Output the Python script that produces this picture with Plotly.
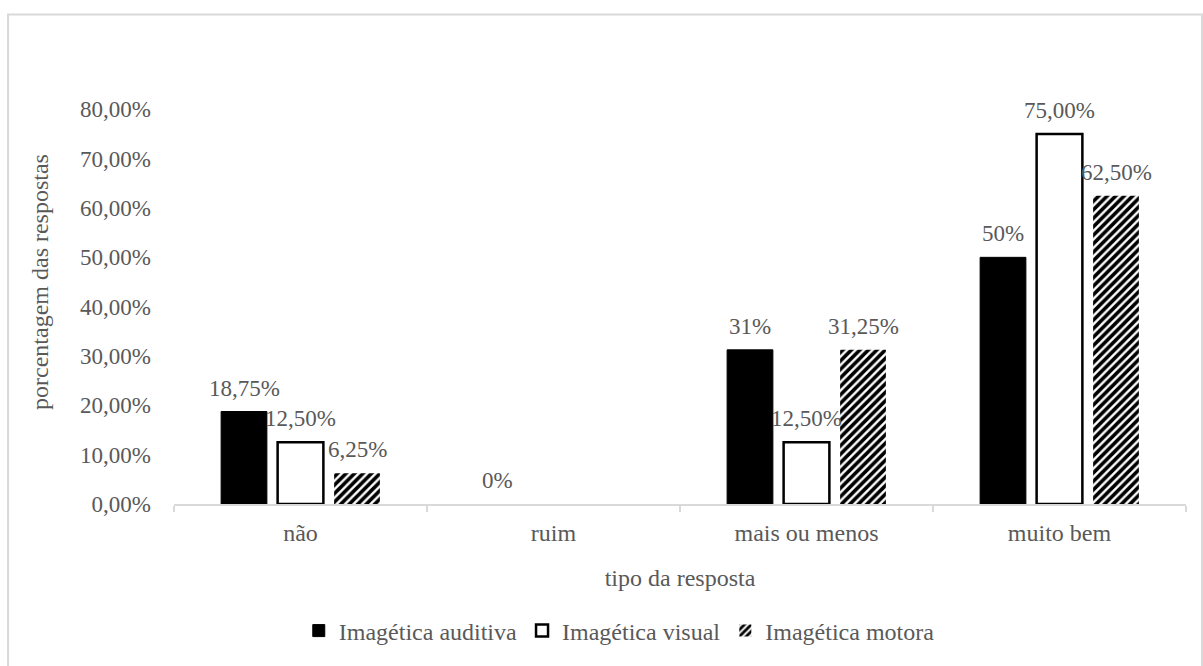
import plotly.graph_objects as go

categories = ["não", "ruim", "mais ou menos", "muito bem"]
series_names = ["Imagética auditiva", "Imagética visual", "Imagética motora"]
auditiva = [18.75, 0, 31.25, 50]
visual = [12.5, 0, 12.5, 75]
motora = [6.25, 0, 31.25, 62.5]
labels_auditiva = ["18,75%", "0%", "31%", "50%"]
labels_visual = ["12,50%", "", "12,50%", "75,00%"]
labels_motora = ["6,25%", "", "31,25%", "62,50%"]
y_ticks = [0, 10, 20, 30, 40, 50, 60, 70, 80]
y_tick_labels = ["0,00%", "10,00%", "20,00%", "30,00%", "40,00%", "50,00%", "60,00%", "70,00%", "80,00%"]

FONT = "'Liberation Serif', 'Times New Roman', Times, serif"
TXT = "#595959"
GRID = "#d9d9d9"

def widths(vals, w):
    return [w if v > 0 else 0 for v in vals]

fig = go.Figure()
fig.add_trace(go.Bar(x=categories, y=auditiva, name=series_names[0],
                     marker=dict(color="black", line=dict(color="black", width=widths(auditiva, 1)))))
fig.add_trace(go.Bar(x=categories, y=visual, name=series_names[1],
                     marker=dict(color="white", line=dict(color="black", width=widths(visual, 2.5)))))
fig.add_trace(go.Bar(x=categories, y=motora, name=series_names[2],
                     marker=dict(color="white", line=dict(width=0),
                                 pattern=dict(shape="/", fgcolor="black", bgcolor="white",
                                              fgopacity=1, fillmode="replace",
                                              size=6, solidity=0.6))))

slot = 56.5
for i, (vals, labs) in enumerate([(auditiva, labels_auditiva), (visual, labels_visual), (motora, labels_motora)]):
    for c, v, t in zip(categories, vals, labs):
        if t:
            fig.add_annotation(x=c, y=v, text=t, showarrow=False, xref="x", yref="y",
                               xshift=(i - 1) * slot, yanchor="bottom", yshift=9,
                               font=dict(family=FONT, size=23, color=TXT))

fig.add_shape(type="rect", xref="paper", yref="paper", x0=-0.164, x1=1.0158, y0=-0.5, y1=1.1027,
              line=dict(color=GRID, width=2), fillcolor="rgba(0,0,0,0)", layer="below")

fig.update_layout(
    width=1203, height=666,
    margin=dict(l=174, r=17, t=60, b=158),
    paper_bgcolor="white", plot_bgcolor="white",
    barmode="group", bargap=0.33, bargroupgap=0.19,
    font=dict(family=FONT, size=24, color=TXT),
    showlegend=True,
    legend=dict(orientation="h", x=0.44, xanchor="center", y=-0.286, yanchor="middle",
                font=dict(family=FONT, size=24, color=TXT), itemwidth=30,
                traceorder="normal"),
    xaxis=dict(showline=True, linecolor=GRID, linewidth=2, ticks="outside", tickson="boundaries",
               ticklen=6, tickcolor=GRID, tickwidth=2, showgrid=False, ticklabelstandoff=6,
               tickfont=dict(family=FONT, size=24, color=TXT),
               title=dict(text="tipo da resposta", standoff=24, font=dict(family=FONT, size=24, color=TXT))),
    yaxis=dict(range=[0, 90], tickvals=y_ticks, ticktext=y_tick_labels,
               showline=False, showgrid=False, zeroline=False, ticks="", ticklabelstandoff=22,
               tickfont=dict(family=FONT, size=23, color=TXT),
               title=dict(text="porcentagem das respostas", standoff=24, font=dict(family=FONT, size=24, color=TXT))),
)

fig.write_html("out.html")
